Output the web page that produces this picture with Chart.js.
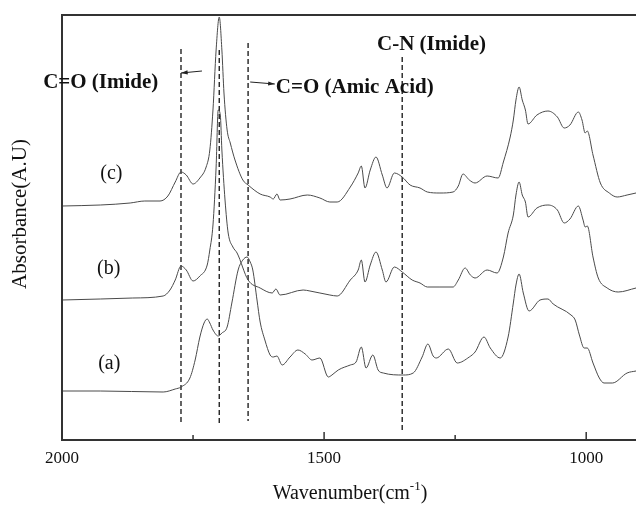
<!DOCTYPE html>
<html lang="es">
<head>
<meta charset="UTF-8">
<title>Espectros FTIR</title>
<script src="https://cdn.jsdelivr.net/npm/chart.js"></script>
<style>
  body { margin: 0; background: #fff; }
  #contenedor { width: 636px; height: 505px; position: relative; }
</style>
</head>
<body>
<div id="contenedor"><canvas id="grafico"></canvas></div>
<script>
// Espectro (a): número de onda (cm-1) y absorbancia (unidades arbitrarias)
const ondaA = [2000, 1927, 1807, 1784, 1773, 1756, 1746, 1737, 1729, 1723, 1718, 1712, 1702, 1695, 1685, 1676, 1664, 1655, 1647, 1641, 1636, 1628, 1622, 1613, 1603, 1597, 1590, 1580, 1565, 1550, 1536, 1523, 1508, 1492, 1485, 1473, 1450, 1439, 1429, 1420, 1407, 1397, 1387, 1349, 1330, 1313, 1302, 1292, 1286, 1263, 1246, 1223, 1212, 1195, 1183, 1164, 1149, 1139, 1134, 1128, 1120, 1109, 1088, 1073, 1063, 1029, 1021, 1013, 1004, 998, 987, 975, 966, 950, 922, 905];
const absA = [0.49, 0.49, 0.48, 0.51, 0.53, 0.62, 0.80, 1.03, 1.17, 1.21, 1.17, 1.10, 1.04, 1.07, 1.13, 1.37, 1.70, 1.80, 1.83, 1.78, 1.70, 1.40, 1.18, 1.00, 0.85, 0.83, 0.84, 0.75, 0.83, 0.90, 0.86, 0.80, 0.82, 0.63, 0.65, 0.70, 0.75, 0.78, 0.93, 0.72, 0.85, 0.70, 0.67, 0.65, 0.67, 0.83, 0.96, 0.84, 0.82, 0.91, 0.77, 0.83, 0.88, 1.03, 0.92, 0.82, 1.03, 1.37, 1.55, 1.66, 1.47, 1.29, 1.40, 1.41, 1.36, 1.25, 1.20, 1.05, 0.92, 0.92, 0.77, 0.62, 0.57, 0.57, 0.67, 0.69];

// Espectro (b)
const ondaB = [2000, 1927, 1865, 1807, 1794, 1784, 1773, 1763, 1750, 1737, 1723, 1718, 1712, 1706, 1702, 1698, 1695, 1689, 1683, 1674, 1666, 1645, 1622, 1599, 1592, 1584, 1540, 1527, 1489, 1475, 1450, 1435, 1429, 1422, 1412, 1401, 1389, 1382, 1366, 1351, 1332, 1317, 1303, 1279, 1254, 1244, 1231, 1221, 1212, 1189, 1170, 1158, 1149, 1139, 1134, 1128, 1122, 1116, 1111, 1094, 1073, 1055, 1042, 1031, 1015, 1006, 1002, 998, 987, 977, 960, 939, 905];
const absB = [1.40, 1.41, 1.42, 1.44, 1.50, 1.60, 1.74, 1.70, 1.59, 1.64, 1.75, 1.90, 2.15, 2.73, 3.30, 3.25, 2.90, 2.40, 2.07, 1.93, 1.87, 1.60, 1.52, 1.47, 1.51, 1.45, 1.50, 1.49, 1.45, 1.44, 1.60, 1.70, 1.80, 1.58, 1.75, 1.88, 1.70, 1.58, 1.73, 1.68, 1.60, 1.57, 1.53, 1.53, 1.53, 1.60, 1.72, 1.65, 1.62, 1.70, 1.67, 1.83, 2.07, 2.25, 2.45, 2.58, 2.45, 2.38, 2.23, 2.32, 2.35, 2.30, 2.17, 2.21, 2.34, 2.20, 2.13, 2.14, 1.83, 1.62, 1.52, 1.48, 1.52];

// Espectro (c)
const ondaC = [2000, 1927, 1870, 1842, 1813, 1798, 1784, 1773, 1763, 1750, 1737, 1725, 1718, 1712, 1706, 1700, 1695, 1691, 1685, 1679, 1670, 1655, 1645, 1622, 1603, 1597, 1590, 1584, 1565, 1532, 1508, 1489, 1475, 1450, 1435, 1429, 1422, 1412, 1401, 1389, 1380, 1366, 1351, 1336, 1317, 1303, 1279, 1254, 1244, 1235, 1223, 1212, 1189, 1168, 1158, 1145, 1139, 1134, 1128, 1122, 1116, 1111, 1094, 1073, 1055, 1042, 1031, 1015, 1008, 1002, 998, 987, 973, 956, 941, 922, 905];
const absC = [2.34, 2.35, 2.37, 2.39, 2.39, 2.44, 2.58, 2.68, 2.65, 2.56, 2.62, 2.73, 2.90, 3.30, 3.90, 4.23, 3.90, 3.47, 3.10, 2.97, 2.80, 2.60, 2.55, 2.46, 2.43, 2.41, 2.46, 2.40, 2.41, 2.45, 2.42, 2.38, 2.38, 2.53, 2.67, 2.74, 2.52, 2.70, 2.83, 2.65, 2.52, 2.67, 2.63, 2.55, 2.52, 2.48, 2.47, 2.48, 2.54, 2.66, 2.60, 2.57, 2.64, 2.62, 2.78, 3.03, 3.20, 3.40, 3.53, 3.40, 3.30, 3.16, 3.25, 3.29, 3.23, 3.12, 3.15, 3.28, 3.20, 3.07, 3.09, 2.85, 2.57, 2.47, 2.43, 2.45, 2.47];

// Ticks del eje X
const ticksX = [2000, 1750, 1500, 1250, 1000];
const etiquetasX = ['2000', '', '1500', '', '1000'];

// Líneas discontinuas de referencia (número de onda, extremo superior, extremo inferior)
const guiasOnda = [1773, 1700, 1645, 1351];
const guiasArriba = [3.91, 3.90, 3.97, 3.83];
const guiasAbajo = [0.15, 0.17, 0.19, 0.07];

// Rótulos de las curvas
const rotulos = ['(a)', '(b)', '(c)'];
const rotulosOnda = [1931, 1933, 1927];
const rotulosAbs = [0.71, 1.66, 2.61];

// Anotaciones de bandas
const bandas = ['C=O (Imide)', 'C=O (Amic Acid)', 'C-N (Imide)'];
const bandasOnda = [2036, 1592, 1399];
const bandasAbs = [3.52, 3.47, 3.90];

// Flechas: [onda inicio, abs inicio, onda punta, abs punta]
const flechas = [[1733, 3.69, 1773, 3.67], [1641, 3.58, 1594, 3.56]];

const serif = '"Liberation Serif", "Times New Roman", serif';

function puntos(xs, ys) {
    return xs.map((x, i) => ({ x: x, y: ys[i] }));
}

const datasets = [
    { data: puntos(ondaA, absA) },
    { data: puntos(ondaB, absB) },
    { data: puntos(ondaC, absC) }
].map(d => Object.assign(d, {
    borderColor: '#4a4a4a',
    borderWidth: 1,
    pointRadius: 0,
    cubicInterpolationMode: 'monotone',
    fill: false
}));

guiasOnda.forEach((onda, i) => {
    datasets.push({
        data: [{ x: onda, y: guiasArriba[i] }, { x: onda, y: guiasAbajo[i] }],
        borderColor: '#222',
        borderWidth: 1.4,
        borderDash: [5, 3],
        pointRadius: 0,
        fill: false
    });
});

// Plugin para marco, ticks interiores, textos y flechas
const decoracion = {
    id: 'decoracion',
    afterDatasetsDraw(chart) {
        const ctx = chart.ctx;
        const a = chart.chartArea;
        const sx = chart.scales.x;
        const sy = chart.scales.y;
        ctx.save();

        // marco
        ctx.strokeStyle = '#333';
        ctx.lineWidth = 2;
        ctx.beginPath();
        ctx.moveTo(a.right + 2, a.top);
        ctx.lineTo(a.left, a.top);
        ctx.lineTo(a.left, a.bottom);
        ctx.lineTo(a.right + 2, a.bottom);
        ctx.stroke();

        // ticks hacia dentro
        ctx.lineWidth = 1.5;
        ticksX.forEach((v, i) => {
            const px = sx.getPixelForValue(v);
            const largo = etiquetasX[i] ? 8 : 5;
            ctx.beginPath();
            ctx.moveTo(px, a.bottom);
            ctx.lineTo(px, a.bottom - largo);
            ctx.stroke();
        });

        // flechas
        ctx.lineWidth = 1;
        ctx.strokeStyle = '#222';
        ctx.fillStyle = '#222';
        flechas.forEach(f => {
            const x1 = sx.getPixelForValue(f[0]), y1 = sy.getPixelForValue(f[1]);
            const x2 = sx.getPixelForValue(f[2]), y2 = sy.getPixelForValue(f[3]);
            const ang = Math.atan2(y2 - y1, x2 - x1);
            ctx.beginPath();
            ctx.moveTo(x1, y1);
            ctx.lineTo(x2, y2);
            ctx.stroke();
            ctx.beginPath();
            ctx.moveTo(x2, y2);
            ctx.lineTo(x2 - 7 * Math.cos(ang - 0.3), y2 - 7 * Math.sin(ang - 0.3));
            ctx.lineTo(x2 - 7 * Math.cos(ang + 0.3), y2 - 7 * Math.sin(ang + 0.3));
            ctx.closePath();
            ctx.fill();
        });

        // textos de bandas
        ctx.fillStyle = '#111';
        ctx.textAlign = 'left';
        ctx.textBaseline = 'alphabetic';
        ctx.font = 'bold 21px ' + serif;
        bandas.forEach((t, i) => {
            ctx.fillText(t, sx.getPixelForValue(bandasOnda[i]), sy.getPixelForValue(bandasAbs[i]));
        });

        // rótulos de curvas
        ctx.font = '20px ' + serif;
        rotulos.forEach((t, i) => {
            ctx.fillText(t, sx.getPixelForValue(rotulosOnda[i]), sy.getPixelForValue(rotulosAbs[i]));
        });

        // títulos de ejes
        ctx.font = '21px ' + serif;
        ctx.textAlign = 'center';
        ctx.textBaseline = 'middle';
        ctx.save();
        ctx.translate(20, 214);
        ctx.rotate(-Math.PI / 2);
        ctx.fillText('Absorbance(A.U)', 0, 0);
        ctx.restore();

        const base = 'Wavenumber(cm';
        ctx.font = '20px ' + serif;
        ctx.textAlign = 'left';
        ctx.textBaseline = 'alphabetic';
        const w1 = ctx.measureText(base).width;
        ctx.font = '13px ' + serif;
        const w2 = ctx.measureText('-1').width;
        ctx.font = '20px ' + serif;
        const w3 = ctx.measureText(')').width;
        let x0 = 350 - (w1 + w2 + w3) / 2;
        ctx.fillText(base, x0, 499);
        ctx.font = '13px ' + serif;
        ctx.fillText('-1', x0 + w1, 490);
        ctx.font = '20px ' + serif;
        ctx.fillText(')', x0 + w1 + w2, 499);

        ctx.restore();
    }
};

const ctx1 = document.getElementById('grafico').getContext('2d');
const grafico = new Chart(ctx1, {
    type: 'line',
    data: { datasets: datasets },
    options: {
        responsive: true,
        maintainAspectRatio: false,
        animation: false,
        layout: { padding: { left: 62, top: 15, right: 0, bottom: 0 } },
        plugins: {
            legend: { display: false },
            tooltip: { enabled: false }
        },
        scales: {
            x: {
                type: 'linear',
                reverse: true,
                min: 905,
                max: 2000,
                grid: { display: false, drawTicks: false },
                border: { display: false },
                afterBuildTicks: scale => {
                    scale.ticks = ticksX.map(v => ({ value: v }));
                },
                afterFit: scale => { scale.height = 65; },
                ticks: {
                    autoSkip: false,
                    maxRotation: 0,
                    padding: 8,
                    color: '#111',
                    font: { family: serif, size: 17 },
                    callback: (v) => etiquetasX[ticksX.indexOf(v)]
                }
            },
            y: {
                display: false,
                min: 0,
                max: 4.25
            }
        }
    },
    plugins: [decoracion]
});
</script>
</body>
</html>
